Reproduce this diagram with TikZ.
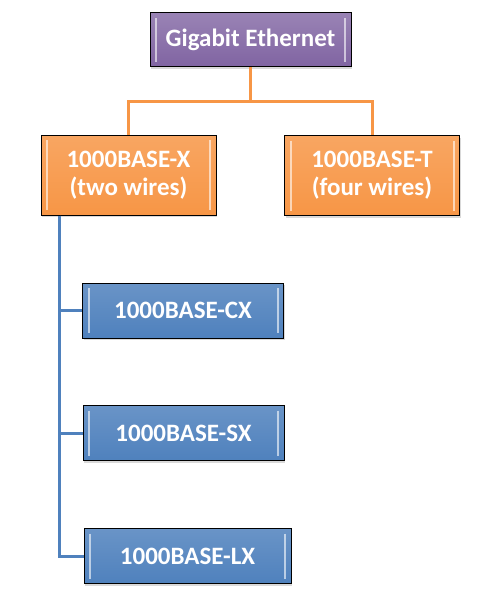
\documentclass[tikz,border=0pt]{standalone}
\usepackage{fontspec}
\setmainfont{Carlito}
\usetikzlibrary{positioning,calc,shadows}
\definecolor{plum}{RGB}{128,100,162}
\definecolor{tangerine}{RGB}{247,150,70}
\definecolor{steel}{RGB}{79,129,189}

\begin{document}
\begin{tikzpicture}[x=1pt,y=-1pt,
  tile/.style={rectangle, draw=black, line width=1pt, text=white, align=center,
               font=\fontsize{25}{28}\selectfont\bfseries, inner sep=0pt,
               drop shadow={opacity=0.3, shadow xshift=1pt, shadow yshift=-2pt},
               path picture={
                 \draw[white, opacity=0.6, line width=2pt]
                   ([xshift=6pt,yshift=-5pt]path picture bounding box.north west)
                   -- ([xshift=6pt,yshift=5pt]path picture bounding box.south west);
                 \draw[white, opacity=0.6, line width=2pt]
                   ([xshift=-6pt,yshift=-5pt]path picture bounding box.north east)
                   -- ([xshift=-6pt,yshift=5pt]path picture bounding box.south east);}},
  top/.style={tile, top color=plum!80!white, bottom color=plum, minimum width=201pt, minimum height=54pt},
  wire/.style={tile, top color=tangerine!85!white, bottom color=tangerine, minimum width=175pt, minimum height=80pt},
  fibre/.style={tile, top color=steel!85!white, bottom color=steel, minimum width=201pt, minimum height=55pt},
  orangeline/.style={draw=tangerine, line width=3pt},
  blueline/.style={draw=steel, line width=3pt}
]
\useasboundingbox (0,0) rectangle (487,591);

\node[top](ge) at (250.5,40){Gigabit Ethernet};
\node[wire](bx) at (128.5,175){1000BASE-X\\(two wires)};
\node[wire](bt) at (372,175.5){1000BASE-T\\(four wires)};
\node[fibre](cx) at (183,310.5){1000BASE-CX};
\node[fibre](sx) at (183.5,433){1000BASE-SX};
\node[fibre,minimum width=207pt](lx) at (187.5,556){1000BASE-LX};

\coordinate (split) at (250.5,102);
\coordinate (trunk) at (59,0);

\draw[orangeline](ge.south)--(split);
\draw[orangeline](split)-|(bx.north);
\draw[orangeline](split)-|(bt.north);
\draw[blueline](bx.south-|trunk)|-(cx.west);
\draw[blueline](bx.south-|trunk)|-(sx.west);
\draw[blueline](bx.south-|trunk)|-(lx.west);
\end{tikzpicture}
\end{document}
